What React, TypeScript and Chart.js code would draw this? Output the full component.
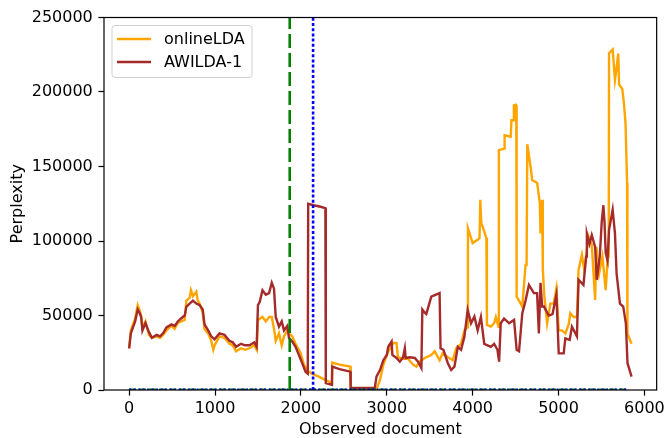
import React, { useEffect, useRef } from 'react';
import { Chart, registerables } from 'chart.js';

Chart.register(...registerables);

// ---- data ----
const onlineX = [0, 20, 70, 100, 120, 140, 155, 190, 230, 265, 320, 360, 395, 435, 493, 530, 567, 605, 647, 667, 705, 720, 743, 782, 800, 820, 857, 878, 920, 956, 980, 995, 1052, 1110, 1168, 1207, 1245, 1303, 1350, 1400, 1457, 1485, 1500, 1553, 1592, 1630, 1661, 1690, 1707, 1745, 1777, 1803, 1842, 1861, 1900, 1938, 1996, 2035, 2092, 2130, 2208, 2324, 2360, 2365, 2450, 2575, 2580, 2880, 2921, 2960, 3017, 3075, 3113, 3130, 3190, 3248, 3306, 3345, 3383, 3441, 3518, 3557, 3615, 3650, 3711, 3769, 3808, 3865, 3904, 3938, 3945, 4000, 4058, 4080, 4089, 4100, 4115, 4154, 4160, 4166, 4212, 4250, 4270, 4300, 4305, 4366, 4372, 4443, 4452, 4474, 4480, 4501, 4508, 4512, 4540, 4578, 4616, 4628, 4636, 4674, 4693, 4751, 4782, 4790, 4809, 4817, 4835, 4867, 4905, 4944, 4975, 5002, 5040, 5079, 5118, 5137, 5175, 5214, 5233, 5272, 5300, 5349, 5387, 5426, 5440, 5472, 5511, 5549, 5570, 5584, 5588, 5630, 5657, 5669, 5695, 5705, 5742, 5761, 5780, 5798, 5802, 5850];
const onlineY = [28000, 40000, 48000, 57000, 54000, 50000, 42000, 46000, 37000, 35000, 36000, 35000, 37000, 40000, 43000, 41000, 45000, 46000, 47000, 60000, 62000, 67000, 63000, 66000, 60000, 58000, 52000, 41000, 38000, 33000, 27000, 30000, 36000, 35000, 31000, 30000, 26000, 28000, 27000, 28000, 30000, 27000, 47000, 49000, 46000, 49000, 49000, 40000, 33000, 38000, 30000, 36000, 40000, 38000, 36000, 31000, 25000, 17000, 12300, 11000, 9000, 5600, 4500, 18400, 17000, 15700, 500, 500, 6700, 17000, 25700, 31500, 31500, 22000, 21000, 21000, 17000, 15700, 19000, 21500, 23500, 26000, 20000, 24600, 22000, 20000, 28000, 31000, 40000, 42000, 108600, 98600, 100800, 102000, 127700, 112000, 110000, 103000, 102000, 43700, 42500, 44800, 49000, 42500, 161000, 162000, 171000, 170000, 181000, 181000, 191000, 191500, 191000, 62700, 60000, 56000, 84000, 84000, 165000, 150000, 141000, 139000, 125500, 105000, 127700, 80600, 62700, 44800, 58000, 58000, 68000, 40000, 40000, 38000, 44000, 51500, 49000, 49000, 80600, 90700, 80600, 103000, 97500, 60500, 96000, 78000, 89600, 67000, 87000, 90000, 226000, 228500, 208000, 213000, 225800, 205000, 202000, 192600, 179000, 139000, 38000, 31000];

const awildaX = [0, 20, 70, 100, 120, 140, 155, 190, 230, 265, 320, 360, 395, 435, 493, 530, 567, 605, 647, 667, 705, 743, 782, 820, 857, 878, 920, 956, 995, 1052, 1110, 1168, 1207, 1245, 1303, 1350, 1400, 1457, 1485, 1500, 1520, 1553, 1592, 1630, 1661, 1687, 1707, 1745, 1777, 1803, 1842, 1861, 1900, 1938, 1977, 2015, 2054, 2080, 2085, 2150, 2228, 2285, 2290, 2330, 2362, 2365, 2450, 2575, 2580, 2860, 2880, 2921, 2960, 3000, 3017, 3056, 3065, 3113, 3152, 3190, 3210, 3220, 3267, 3326, 3364, 3403, 3414, 3440, 3460, 3480, 3518, 3615, 3626, 3660, 3711, 3750, 3788, 3827, 3865, 3904, 3942, 3981, 4020, 4058, 4096, 4135, 4212, 4250, 4289, 4308, 4327, 4365, 4424, 4482, 4512, 4540, 4578, 4616, 4655, 4713, 4750, 4771, 4790, 4809, 4830, 4886, 4930, 4975, 5002, 5060, 5079, 5130, 5156, 5214, 5233, 5290, 5322, 5330, 5360, 5387, 5426, 5445, 5480, 5503, 5522, 5535, 5549, 5570, 5588, 5630, 5657, 5676, 5715, 5753, 5784, 5803, 5850];
const awildaY = [28000, 38000, 46000, 54000, 52000, 49000, 40000, 45000, 39000, 35000, 37000, 36000, 38000, 42000, 44000, 43000, 46000, 48000, 50000, 56000, 58000, 60000, 58000, 57000, 54000, 44000, 40000, 36000, 34000, 38000, 37000, 33000, 32000, 29000, 31000, 30000, 30000, 32000, 29000, 57000, 59000, 67000, 64000, 65000, 72000, 68000, 49000, 42500, 46000, 40000, 43000, 35000, 32500, 29000, 23500, 18000, 12300, 11000, 125000, 124000, 123000, 122000, 4700, 4000, 3400, 15700, 14000, 12300, 1300, 1300, 9000, 13400, 20000, 23500, 29000, 32500, 23500, 21500, 19000, 22000, 28000, 21500, 22000, 21500, 19000, 14700, 54000, 52000, 51000, 55000, 62700, 65000, 28000, 27000, 18000, 13400, 15700, 29000, 27000, 35800, 53800, 44800, 49300, 40000, 49000, 31000, 29000, 31000, 27000, 19000, 44800, 48000, 44800, 47000, 27000, 26000, 51500, 60000, 70500, 65000, 65000, 38000, 72000, 56000, 56000, 50000, 51000, 64000, 24600, 24600, 34700, 33600, 42500, 36000, 74000, 70500, 89600, 105000, 98000, 104000, 96000, 74000, 89600, 113000, 124000, 113000, 92000, 87000, 107500, 121000, 105000, 78000, 58000, 56000, 44800, 18000, 9000];

const driftGreen = [1870];
const driftBlue = [2142];
const zeroLineRange = [0, 5800];

const xTicks = [0, 1000, 2000, 3000, 4000, 5000, 6000];
const yTicks = [0, 50000, 100000, 150000, 200000, 250000];
const seriesLabels = ['onlineLDA', 'AWILDA-1'];
const seriesColors = ['#FFA500', '#A52A2A'];

const X_MIN = -292.5;
const X_MAX = 6142.5;
const Y_MIN = 0;
const Y_MAX = 250000;

const FONT = "'DejaVu Sans', sans-serif";
const FONT_SIZE = 16;

const framePlugin = {
  id: 'mplFrame',
  afterDatasetsDraw(chart: any) {
    const { ctx, chartArea } = chart;
    ctx.save();
    ctx.strokeStyle = '#000';
    ctx.lineWidth = 1.2;
    ctx.strokeRect(chartArea.left, chartArea.top, chartArea.right - chartArea.left, chartArea.bottom - chartArea.top);
    ctx.restore();
  },
};

const legendPlugin = {
  id: 'mplLegend',
  afterDraw(chart: any) {
    const { ctx, chartArea } = chart;
    const x0 = chartArea.left + 8;
    const y0 = chartArea.top + 8;
    const w = 140;
    const h = 52;
    const r = 3;
    ctx.save();
    ctx.beginPath();
    ctx.moveTo(x0 + r, y0);
    ctx.lineTo(x0 + w - r, y0);
    ctx.arcTo(x0 + w, y0, x0 + w, y0 + r, r);
    ctx.lineTo(x0 + w, y0 + h - r);
    ctx.arcTo(x0 + w, y0 + h, x0 + w - r, y0 + h, r);
    ctx.lineTo(x0 + r, y0 + h);
    ctx.arcTo(x0, y0 + h, x0, y0 + h - r, r);
    ctx.lineTo(x0, y0 + r);
    ctx.arcTo(x0, y0, x0 + r, y0, r);
    ctx.closePath();
    ctx.fillStyle = 'rgba(255,255,255,0.8)';
    ctx.fill();
    ctx.strokeStyle = 'rgba(204,204,204,0.9)';
    ctx.lineWidth = 1;
    ctx.stroke();
    seriesLabels.forEach((label, i) => {
      const cy = y0 + 13.5 + i * 23;
      ctx.beginPath();
      ctx.strokeStyle = seriesColors[i];
      ctx.lineWidth = 2.4;
      ctx.moveTo(x0 + 5, cy);
      ctx.lineTo(x0 + 39, cy);
      ctx.stroke();
      ctx.fillStyle = '#000';
      ctx.font = `${FONT_SIZE}px ${FONT}`;
      ctx.textBaseline = 'middle';
      ctx.textAlign = 'left';
      ctx.fillText(label, x0 + 52, cy + 0.5);
    });
    ctx.restore();
  },
};

function toPoints(xs: number[], ys: number[]) {
  return xs.map((x, i) => ({ x, y: ys[i] }));
}

export default function App() {
  const ref = useRef<HTMLCanvasElement | null>(null);

  useEffect(() => {
    if (!ref.current) return;
    const axisFont = { family: FONT, size: FONT_SIZE };
    const chart = new Chart(ref.current, {
      type: 'line',
      data: {
        datasets: [
          {
            label: 'driftBlue',
            data: driftBlue.flatMap((x) => [{ x, y: Y_MIN }, { x, y: Y_MAX }]),
            borderColor: '#0000FF',
            borderWidth: 2.6,
            borderDash: [3, 2.2],
            pointRadius: 0,
            order: 1,
          },
          {
            label: 'driftGreen',
            data: driftGreen.flatMap((x) => [{ x, y: Y_MIN }, { x, y: Y_MAX }]),
            borderColor: '#008000',
            borderWidth: 2.6,
            borderDash: [14, 5],
            pointRadius: 0,
            order: 2,
          },
          {
            label: 'zeroBlue',
            data: zeroLineRange.map((x) => ({ x, y: 0 })),
            borderColor: '#0000FF',
            borderWidth: 3,
            borderDash: [2, 2.5],
            pointRadius: 0,
            order: 3,
          },
          {
            label: 'zeroGreen',
            data: zeroLineRange.map((x) => ({ x, y: 0 })),
            borderColor: '#008000',
            borderWidth: 3,
            borderDash: [7, 3],
            pointRadius: 0,
            order: 4,
          },
          {
            label: seriesLabels[1],
            data: toPoints(awildaX, awildaY),
            borderColor: seriesColors[1],
            borderWidth: 2.4,
            pointRadius: 0,
            tension: 0,
            order: 5,
          },
          {
            label: seriesLabels[0],
            data: toPoints(onlineX, onlineY),
            borderColor: seriesColors[0],
            borderWidth: 2.4,
            pointRadius: 0,
            tension: 0,
            order: 6,
          },
        ],
      },
      options: {
        animation: false,
        responsive: false,
        events: [],
        parsing: false,
        layout: { padding: { top: 17.5, right: 9.5, left: 0, bottom: 0 } },
        plugins: {
          legend: { display: false },
          tooltip: { enabled: false },
        },
        scales: {
          x: {
            type: 'linear',
            min: X_MIN,
            max: X_MAX,
            afterBuildTicks: (s: any) => {
              s.ticks = xTicks.map((v) => ({ value: v }));
            },
            afterFit: (s: any) => {
              s.height = 48;
            },
            grid: {
              display: true,
              drawOnChartArea: false,
              drawTicks: true,
              tickLength: 5.6,
              tickColor: '#000',
              tickWidth: 1.2,
            },
            border: { display: false },
            ticks: {
              color: '#000',
              font: axisFont,
              padding: 4,
              maxRotation: 0,
              autoSkip: false,
              callback: (v: any) => String(v),
            },
            title: {
              display: true,
              text: 'Observed document',
              color: '#000',
              font: axisFont,
              padding: { top: 0, bottom: -1.5 },
            },
          },
          y: {
            type: 'linear',
            min: Y_MIN,
            max: Y_MAX,
            afterBuildTicks: (s: any) => {
              s.ticks = yTicks.map((v) => ({ value: v }));
            },
            afterFit: (s: any) => {
              s.width = 104;
            },
            grid: {
              display: true,
              drawOnChartArea: false,
              drawTicks: true,
              tickLength: 5.6,
              tickColor: '#000',
              tickWidth: 1.2,
            },
            border: { display: false },
            ticks: {
              color: '#000',
              font: axisFont,
              padding: 5.6,
              autoSkip: false,
              callback: (v: any) => String(v),
            },
            title: {
              display: true,
              text: 'Perplexity',
              color: '#000',
              font: axisFont,
              padding: { top: 8, bottom: 0 },
            },
          },
        },
      },
      plugins: [framePlugin, legendPlugin],
    } as any);
    return () => chart.destroy();
  }, []);

  return (
    <div style={{ position: 'fixed', left: 0, top: 0, width: 669, height: 438, background: '#fff' }}>
      <canvas ref={ref} width={669} height={438} style={{ display: 'block', width: 669, height: 438 }} />
    </div>
  );
}
